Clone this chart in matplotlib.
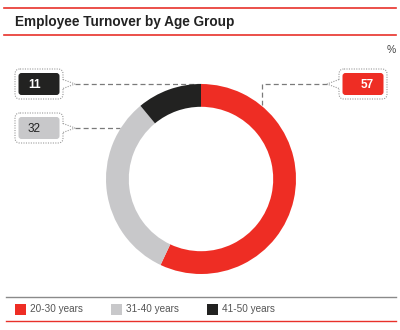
import matplotlib
matplotlib.use("Agg")
import matplotlib.pyplot as plt
from matplotlib.patches import FancyBboxPatch, Rectangle, Polygon

plt.rcParams["font.family"] = ["Liberation Sans", "DejaVu Sans"]

# Turnover shares (%)
groups = ["20-30 years", "31-40 years", "41-50 years"]
shares = [57, 32, 11]
colors = ["#ee2d24", "#c8c8ca", "#222221"]
text_colors = ["white", "#222222", "white"]

W, H = 400, 330
fig = plt.figure(figsize=(W / 100, H / 100), dpi=100)

# Full-figure overlay in pixel coordinates (y grows downward)
ov = fig.add_axes([0, 0, 1, 1])
ov.set_xlim(0, W)
ov.set_ylim(H, 0)
ov.axis("off")

# Donut
cx, cy, r = 201, 179, 95
pie_ax = fig.add_axes([(cx - r) / W, (H - cy - r) / H, 2 * r / W, 2 * r / H])
pie_ax.pie(shares, colors=colors, startangle=90, counterclock=False,
           radius=1.0, wedgeprops=dict(width=0.24, linewidth=0))
pie_ax.set_xlim(-1, 1)
pie_ax.set_ylim(-1, 1)
pie_ax.set_aspect("auto")
pie_ax.axis("off")

# Header rules and title
ov.plot([4, 396], [8, 8], color="#e8312a", lw=1.2)
ov.plot([4, 396], [35, 35], color="#e8312a", lw=1.2)
ov.text(15, 22, "Employee Turnover by Age Group", fontsize=9.8,
        fontweight="bold", color="#222222", va="center", ha="left")
ov.text(396, 50, "%", fontsize=7.5, color="#444444", va="center", ha="right")


def callout(x0, y0, w, h, side, value, fill, tcolor, text_x, ha):
    # dotted outline with a small pointer, solid value box inside
    outline = FancyBboxPatch((x0, y0), w, h, boxstyle="round,pad=0,rounding_size=5",
                             fill=False, ec="#9a9a9a", lw=0.8, ls=(0, (1, 1.2)))
    ov.add_patch(outline)
    ym = y0 + h / 2
    if side == "right":
        ex, tip = x0 + w, x0 + w + 12
    else:
        ex, tip = x0, x0 - 12
    ov.add_patch(Rectangle((ex - 1.5, ym - 4.5), 3, 9, fc="white", ec="none", zorder=3))
    ov.add_patch(Polygon([[ex, ym - 4.5], [tip, ym], [ex, ym + 4.5]], closed=False,
                         fill=False, ec="#9a9a9a", lw=0.8, ls=(0, (1, 1.2)), zorder=4))
    ov.add_patch(FancyBboxPatch((x0 + 3.5, y0 + 4), w - 7, h - 8,
                                boxstyle="round,pad=0,rounding_size=3",
                                fc=fill, ec="none"))
    ov.text(text_x, ym + 0.5, str(value), fontsize=8.5, color=tcolor,
            va="center", ha=ha, fontweight="bold" if tcolor == "white" else "normal")
    return tip, ym


dash = dict(color="#7a7a7a", lw=0.9, ls=(0, (4, 2.5)))

# 41-50 callout (top left)
tip, ym = callout(15, 69, 48, 30, "right", shares[2], colors[2], text_colors[2], 28, "left")
ov.plot([tip, cx], [ym, ym], **dash)

# 31-40 callout (left)
tip, ym = callout(15, 113, 48, 30, "right", shares[1], colors[1], text_colors[1], 28, "left")
ov.plot([tip, 120], [ym, ym], **dash)

# 20-30 callout (top right)
tip, ym = callout(339, 69, 48, 30, "left", shares[0], colors[0], text_colors[0], 374, "right")
ov.plot([tip, 262, 262], [ym, ym, 105], **dash)

# Legend
ov.plot([6, 396], [297, 297], color="#8a8a8a", lw=1.0)
ov.plot([6, 396], [321, 321], color="#e8312a", lw=1.0)
for x_sq, label, c in zip([15, 111, 207], groups, colors):
    ov.add_patch(Rectangle((x_sq, 303.5), 11, 11, fc=c, ec="none"))
    ov.text(x_sq + 15, 309.5, label, fontsize=7.2, color="#555555",
            va="center", ha="left")

fig.savefig("out.png", dpi=100)
